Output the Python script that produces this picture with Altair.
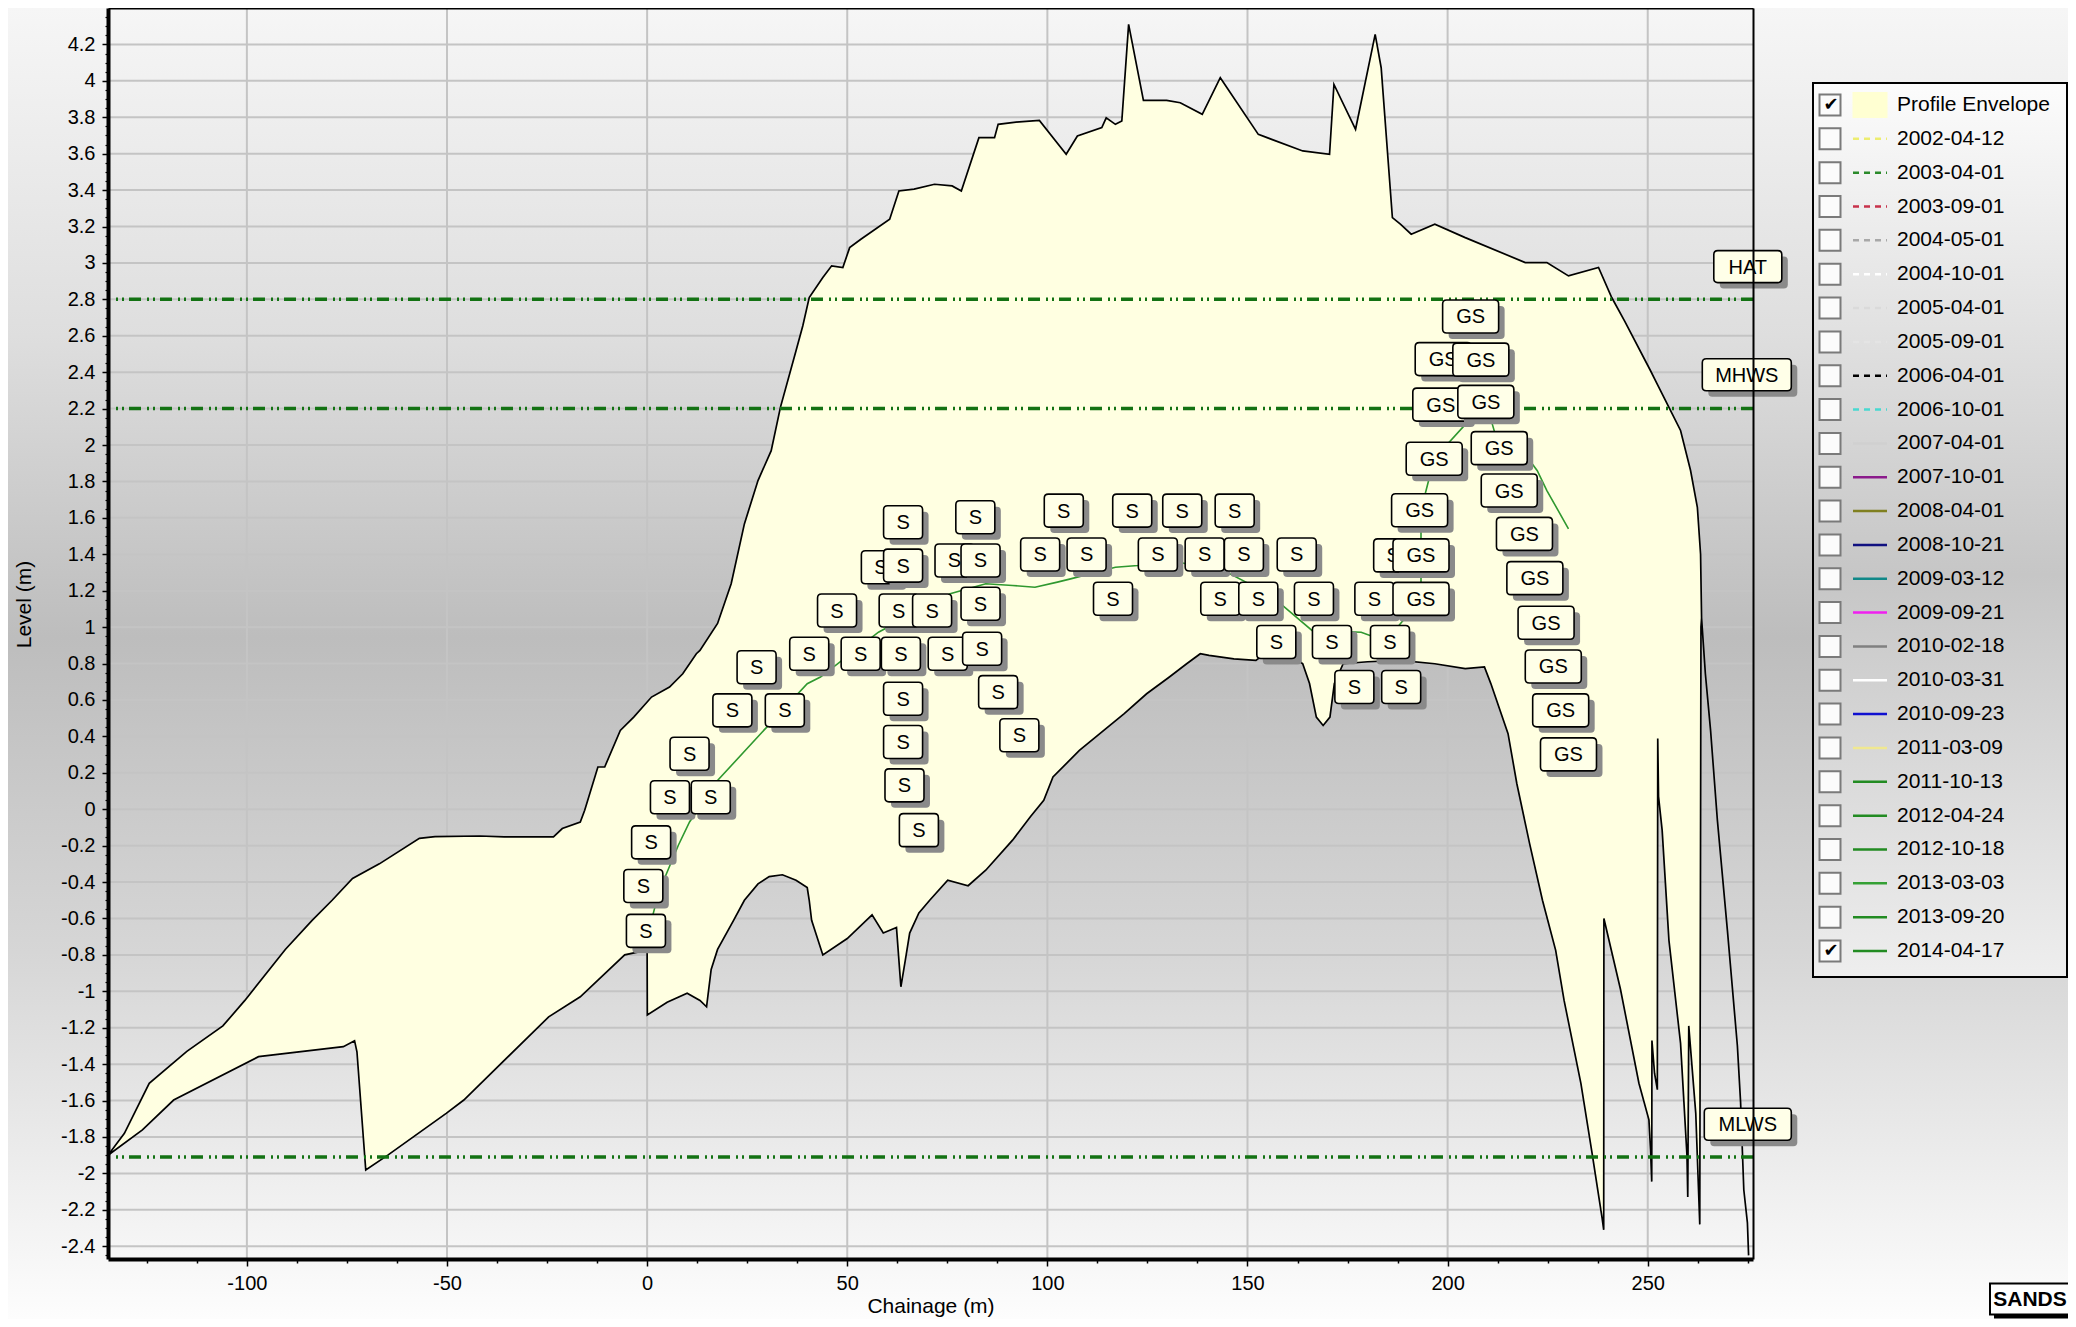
import altair as alt
import pandas as pd

# ---------------- data ----------------
upper_ch = [-134.7, -130.6, -124.4, -115.0, -106.0, -100.5, -90.4, -83.7, -78.7, -73.6, -66.9, -56.9, -53.0,
            -41.8, -35.7, -23.4, -21.2, -16.7, -15.6, -12.3, -10.6, -6.7, -3.35, 1.1, 5.6, 8.9, 12.3, 13.2,
            17.6, 21.0, 24.3, 27.7, 31.0, 33.3, 37.2, 38.9, 40.5, 43.9, 46.1, 48.9, 50.6, 53.4, 60.6, 62.9,
            66.7, 71.8, 76.2, 78.5, 82.9, 86.8, 87.7, 93.0, 98.0, 104.7, 107.5, 113.6, 114.7, 117.0, 118.6,
            120.3, 124.0, 129.8, 133.2, 138.7, 143.2, 152.7, 154.9, 163.8, 170.5, 171.6, 177.0, 181.9, 183.4,
            186.2, 188.2, 190.9, 196.8, 204.4, 219.4, 224.8, 230.2, 237.7, 241.0, 244.2, 250.7, 251.9, 255.3,
            258.2, 260.7, 262.4, 263.2, 263.45, 264.4, 265.7, 267.4, 269.9, 272.4, 273.2, 274.0, 274.9, 275.2]
upper_lv = [-1.90, -1.78, -1.505, -1.33, -1.19, -1.05, -0.77, -0.61, -0.50, -0.38, -0.30, -0.16, -0.15,
            -0.147, -0.152, -0.152, -0.106, -0.07, -0.006, 0.232, 0.232, 0.433, 0.506, 0.616, 0.671, 0.744, 0.854, 0.872,
            1.02, 1.238, 1.567, 1.805, 1.969, 2.207, 2.518, 2.655, 2.81, 2.92, 2.984, 2.975, 3.084, 3.13, 3.24, 3.395,
            3.405, 3.432, 3.423, 3.395, 3.688, 3.688, 3.761, 3.775, 3.783, 3.597, 3.697, 3.743, 3.797, 3.761, 3.779,
            4.31, 3.893, 3.893, 3.88, 3.816, 4.017, 3.706, 3.688, 3.615, 3.597, 3.98, 3.734, 4.255, 4.072,
            3.249, 3.213, 3.158, 3.213, 3.139, 3.002, 3.002, 2.929, 2.975, 2.81, 2.682, 2.408, 2.355, 2.207,
            2.08, 1.86, 1.658, 1.40, 1.05, 0.744, 0.433, -0.06, -0.664, -1.30, -1.61, -2.09, -2.27, -2.45]

lower_ch = [-134.7, -126.1, -118.3, -97.1, -75.9, -73.1, -72.5, -70.3, -64.7, -50.2, -45.8, -24.6, -16.7, -5.6,
            0.0, 0.05, 5.0, 10.0, 13.2, 14.85, 16.0, 17.6, 21.6, 24.3, 27.7, 30.5, 33.8, 37.2, 40.0, 40.5, 41.1,
            43.9, 50.0, 56.2, 59.0, 62.3, 63.4, 64.5, 65.6, 67.9, 70.6, 75.1, 80.2, 84.6, 91.3, 95.8, 99.1, 101.4,
            108.0, 119.2, 124.8, 130.4, 134.8, 138.2, 140.4, 146.6, 152.1, 153.2, 161.6, 163.8, 165.5, 167.2,
            168.9, 170.6, 171.7, 173.9, 180.0, 188.2, 196.8, 204.4, 209.2, 210.8, 215.1, 217.3, 220.5, 223.7,
            227.0, 229.1, 233.3, 236.1, 238.6, 239.0, 239.05, 243.2, 247.8, 250.3, 250.7, 251.0, 251.05, 251.7,
            252.4, 252.5, 252.7, 253.6, 255.3, 258.2, 259.8, 260.0, 260.25, 262.0, 263.0, 263.3, 263.45, 264.4,
            265.7, 267.4, 269.9, 272.4, 273.2, 274.0, 274.9, 275.2]
lower_lv = [-1.90, -1.761, -1.597, -1.359, -1.304, -1.271, -1.332, -1.981, -1.898, -1.67, -1.597, -1.14, -1.03, -0.80,
            -0.774, -1.13, -1.06, -1.01, -1.05, -1.085, -0.88, -0.77, -0.61, -0.50, -0.41, -0.37, -0.36, -0.39, -0.43, -0.50, -0.61,
            -0.80, -0.71, -0.58, -0.68, -0.65, -0.975, -0.83, -0.68, -0.57, -0.50, -0.39, -0.42, -0.335, -0.17, -0.04, 0.049, 0.177,
            0.323, 0.525, 0.634, 0.725, 0.799, 0.854, 0.845, 0.826, 0.817, 0.836, 0.836, 0.799, 0.69, 0.506,
            0.46, 0.506, 0.69, 0.799, 0.81, 0.817, 0.799, 0.772, 0.781, 0.69, 0.415, 0.14, -0.19, -0.50,
            -0.775, -1.05, -1.505, -1.89, -2.245, -2.31, -0.60, -0.99, -1.505, -1.706, -1.87, -2.045, -1.27, -1.45,
            -1.54, 0.388, 0.07, -0.115, -0.72, -1.286, -1.90, -2.13, -1.19, -1.67, -2.28, 1.0, 1.05, 0.744,
            0.433, -0.06, -0.664, -1.30, -1.61, -2.09, -2.27, -2.45]

p2014_ch = [0.0, 3.0, 7.8, 10.6, 17.65, 29.9, 40.0, 43.3, 57.8, 75.7, 84.6, 91.3, 96.9, 102.5, 105.8, 117.0,
            122.6, 132.0, 145.0, 152.0, 158.3, 166.1, 178.4, 180.6, 185.6, 193.35, 193.35, 196.65, 209.55,
            212.9, 219.0, 222.4, 224.8, 230.2]
p2014_lv = [-0.70, -0.45, -0.198, -0.07, 0.159, 0.451, 0.689, 0.726, 0.972, 1.183, 1.238, 1.229, 1.219, 1.247,
            1.265, 1.329, 1.338, 1.36, 1.30, 1.22, 1.128, 0.982, 0.972, 0.954, 0.95, 1.155, 1.642, 1.925, 2.237,
            1.983, 1.96, 1.859, 1.75, 1.54]

s_ch = [-0.3, -0.95, 1.0, 5.7, 15.9, 10.6, 21.3, 34.4, 27.35, 40.5, 53.35, 63.4, 75.1, 83.7, 47.45, 62.85,
        71.2, 83.3, 63.95, 83.3, 63.95, 82.0, 63.95, 87.7, 63.95, 93.0, 64.3, 67.9, 104.1, 121.2, 133.7, 146.8,
        98.2, 109.8, 127.6, 139.3, 149.1, 162.3, 116.4, 143.2, 152.7, 166.6, 181.7, 157.2, 171.1, 185.6, 176.7,
        188.4]
s_lv = [-0.668, -0.422, -0.182, 0.066, 0.066, 0.305, 0.543, 0.543, 0.78, 0.854, 0.854, 0.854, 0.854, 0.881,
        1.091, 1.091, 1.091, 1.128, 1.338, 1.366, 1.576, 1.603, 0.607, 0.643, 0.369, 0.406, 0.131, -0.115, 1.64,
        1.64, 1.64, 1.64, 1.399, 1.399, 1.399, 1.399, 1.399, 1.399, 1.156, 1.156, 1.156, 1.156, 1.156, 0.918,
        0.918, 0.918, 0.671, 0.671]
s_back_ch = [58.4, 76.8, 186.4]
s_back_lv = [1.329, 1.366, 1.394]
gs_ch = [193.35, 193.35, 193.0, 196.65, 209.55, 208.3, 205.75, 212.9, 215.4, 219.2, 221.8, 224.6, 226.4,
         228.25, 230.2]
gs_lv = [1.155, 1.394, 1.642, 1.925, 2.237, 2.469, 2.706, 1.983, 1.75, 1.512, 1.269, 1.024, 0.784, 0.543, 0.301]
gs_back_ch = [198.3, 198.9]
gs_back_lv = [2.222, 2.472]

tide_names = ["HAT", "MHWS", "MLWS"]
tide_levels = [2.8, 2.2, -1.91]
tide_label_ch = [275.0, 274.75, 275.0]
tide_label_lv = [2.98, 2.386, -1.73]

legend_entries = ["Profile Envelope", "2002-04-12", "2003-04-01", "2003-09-01", "2004-05-01", "2004-10-01",
                  "2005-04-01", "2005-09-01", "2006-04-01", "2006-10-01", "2007-04-01", "2007-10-01",
                  "2008-04-01", "2008-10-21", "2009-03-12", "2009-09-21", "2010-02-18", "2010-03-31",
                  "2010-09-23", "2011-03-09", "2011-10-13", "2012-04-24", "2012-10-18", "2013-03-03",
                  "2013-09-20", "2014-04-17"]
legend_colors = ["#ffffd2", "#eded70", "#2a8a2a", "#c8324b", "#a8a8a8", "#ffffff", "#dadada", "#e4e4e4",
                 "#000000", "#48d8d0", "#d0d0d0", "#8b1a8b", "#808020", "#101080", "#108888", "#f020f0",
                 "#808080", "#ffffff", "#1010d0", "#f0e890", "#228b22", "#228b22", "#228b22", "#34a034",
                 "#228b22", "#228b22"]
legend_styles = ["fill"] + ["dash"] * 9 + ["solid"] * 16
legend_checked = [1] + [0] * 24 + [1]

x_ticks = [-100, -50, 0, 50, 100, 150, 200, 250]
y_ticks = [-2.4, -2.2, -2, -1.8, -1.6, -1.4, -1.2, -1, -0.8, -0.6, -0.4, -0.2, 0, 0.2, 0.4, 0.6, 0.8, 1,
           1.2, 1.4, 1.6, 1.8, 2, 2.2, 2.4, 2.6, 2.8, 3, 3.2, 3.4, 3.6, 3.8, 4, 4.2]
minor_x = [-125, -112.5, -87.5, -75, -62.5, -37.5, -25, -12.5, 12.5, 25, 37.5, 62.5, 75, 87.5, 112.5, 125,
           137.5, 162.5, 175, 187.5, 212.5, 225, 237.5, 262.5, 275]
minor_y = [round(-2.45 + 0.05 * i, 2) for i in range(137) if i % 4 != 1]

# ---------------- layout ----------------
W, H = 1645, 1251
PAD = {"left": 100, "top": 0, "right": 315, "bottom": 60}
X_DOM = [-134.7, 276.3]
Y_DOM = [-2.47, 4.40]
FONT = "Liberation Sans"

xs = alt.Scale(domain=X_DOM, nice=False, zero=False)
ys = alt.Scale(domain=Y_DOM, nice=False, zero=False)


def rr_path(w, h, r, base=50.0):
    x = w / 2 / base
    y = h / 2 / base
    q = r / base
    f = lambda v: f"{v:.4f}"
    return (f"M{f(-x + q)},{f(-y)}L{f(x - q)},{f(-y)}Q{f(x)},{f(-y)} {f(x)},{f(-y + q)}"
            f"L{f(x)},{f(y - q)}Q{f(x)},{f(y)} {f(x - q)},{f(y)}L{f(-x + q)},{f(y)}"
            f"Q{f(-x)},{f(y)} {f(-x)},{f(y - q)}L{f(-x)},{f(-y + q)}Q{f(-x)},{f(-y)} {f(-x + q)},{f(-y)}Z")


kinds = ["S", "GS", "HAT", "MHWS", "MLWS"]
kind_paths = [rr_path(39, 33, 4), rr_path(56, 33, 4), rr_path(68, 32, 4), rr_path(89, 32, 4), rr_path(87, 32, 4)]
shape_enc = alt.Shape("kind:N", scale=alt.Scale(domain=kinds, range=kind_paths), legend=None)

grad_bg = alt.LinearGradient(gradient="linear", x1=0, x2=0, y1=0, y2=1, stops=[
    alt.GradientStop(color="#f6f6f6", offset=0.0),
    alt.GradientStop(color="#dedede", offset=0.25),
    alt.GradientStop(color="#bdbdbd", offset=0.48),
    alt.GradientStop(color="#d6d6d6", offset=0.72),
    alt.GradientStop(color="#fdfdfd", offset=1.0)])
grad_leg = alt.LinearGradient(gradient="linear", x1=0, x2=0, y1=0, y2=1, stops=[
    alt.GradientStop(color="#fcfcfc", offset=0.0),
    alt.GradientStop(color="#c6c6c6", offset=0.55),
    alt.GradientStop(color="#eeeeee", offset=1.0)])

one = pd.DataFrame({"k": [0]})

# ---------------- tables ----------------
poly = pd.DataFrame({"ch": upper_ch + lower_ch[::-1], "lv": upper_lv + lower_lv[::-1]})
poly["idx"] = range(len(poly))
p14 = pd.DataFrame({"ch": p2014_ch, "lv": p2014_lv})
p14["idx"] = range(len(p14))
tides = pd.DataFrame({"name": tide_names, "lv": tide_levels})

back_rows = ([dict(ch=c, lv=l, txt="S", kind="S") for c, l in zip(s_back_ch, s_back_lv)] +
             [dict(ch=c, lv=l, txt="GS", kind="GS") for c, l in zip(gs_back_ch, gs_back_lv)])
front_rows = ([dict(ch=c, lv=l, txt="S", kind="S") for c, l in zip(s_ch, s_lv)] +
              [dict(ch=c, lv=l, txt="GS", kind="GS") for c, l in zip(gs_ch, gs_lv)] +
              [dict(ch=c, lv=l, txt=n, kind=n) for c, l, n in zip(tide_label_ch, tide_label_lv, tide_names)])
back = pd.DataFrame(back_rows)
front = pd.DataFrame(front_rows)

leg = pd.DataFrame({"idx": list(range(len(legend_entries))), "entry": legend_entries,
                    "style": legend_styles, "checked": legend_checked})

# ---------------- axes ----------------
ax_main_x = alt.Axis(orient="bottom", values=x_ticks, title="Chainage (m)", grid=False, domainColor="black",
                     domainWidth=4, tickColor="black", tickSize=7, tickWidth=1.5, labelFont=FONT,
                     labelFontSize=20, labelColor="black", labelPadding=7, labelExpr="'' + datum.value",
                     labelFlush=False, labelOverlap=False, titleFont=FONT, titleFontSize=21,
                     titleFontWeight="normal", titleColor="black", titleY=47, titleBaseline="middle", zindex=1)
ax_main_y = alt.Axis(orient="left", values=y_ticks, title="Level (m)", grid=False, domainColor="black",
                     domainWidth=4, tickColor="black", tickSize=6, tickWidth=1.5, labelFont=FONT,
                     labelFontSize=20, labelColor="black", labelPadding=7, labelExpr="'' + datum.value",
                     labelOverlap=False, titleFont=FONT, titleFontSize=21, titleFontWeight="normal",
                     titleColor="black", titleAngle=270, titleX=-83.5, titleY=596, titleAlign="center",
                     titleBaseline="middle", zindex=1)
ax_minor_x = alt.Axis(orient="bottom", values=minor_x, labels=False, grid=False, domain=False, tickSize=4,
                      tickColor="black", tickWidth=1.5, title="", zindex=1)
ax_minor_y = alt.Axis(orient="left", values=minor_y, labels=False, grid=False, domain=False, tickSize=3,
                      tickColor="black", tickWidth=1.2, title="", zindex=1)
ax_top = alt.Axis(orient="top", labels=False, ticks=False, grid=False, domainColor="black", domainWidth=2,
                  title="", zindex=1)
ax_right = alt.Axis(orient="right", labels=False, ticks=False, grid=False, domainColor="black", domainWidth=2,
                    title="", zindex=1)

# ---------------- main plot layers ----------------
bg = alt.Chart(one).mark_rect(fill=grad_bg).encode(
    x=alt.value(-PAD["left"]), x2=alt.value(W + PAD["right"]), y=alt.value(0), y2=alt.value(H + PAD["bottom"]))

grid_x = alt.Chart(pd.DataFrame({"v": x_ticks})).mark_rule(color="#c4c4c4", strokeWidth=2).encode(
    x=alt.X("v:Q", scale=xs, axis=ax_minor_x))
grid_y = alt.Chart(pd.DataFrame({"v": y_ticks})).mark_rule(color="#c4c4c4", strokeWidth=2).encode(
    y=alt.Y("v:Q", scale=ys, axis=ax_minor_y))

env = alt.Chart(poly).mark_line(fill="#ffffe1", stroke="black", strokeWidth=1.7).encode(
    x=alt.X("ch:Q", scale=xs, axis=ax_main_x),
    y=alt.Y("lv:Q", scale=ys, axis=ax_main_y),
    order=alt.Order("idx:Q"))

line14 = alt.Chart(p14).mark_line(color="#2f982f", strokeWidth=1.6).encode(
    x=alt.X("ch:Q", scale=xs, axis=ax_top),
    y=alt.Y("lv:Q", scale=ys, axis=ax_right),
    order=alt.Order("idx:Q"))

tide_rules = alt.Chart(tides).mark_rule(color="#137213", strokeWidth=3.5, strokeDash=[12, 5, 2, 4, 2, 6]).encode(
    y=alt.Y("lv:Q", scale=ys, axis=None))


def label_layers(df):
    enc = dict(x=alt.X("ch:Q", scale=xs, axis=None), y=alt.Y("lv:Q", scale=ys, axis=None))
    sh = alt.Chart(df).mark_point(size=10000, filled=True, fill="#8a8a8a", opacity=1, xOffset=6, yOffset=6).encode(
        shape=shape_enc, **enc)
    bx = alt.Chart(df).mark_point(size=10000, filled=True, fill="#ffffe8", stroke="black", strokeWidth=1.6,
                                  opacity=1).encode(shape=shape_enc, **enc)
    tx = alt.Chart(df).mark_text(font=FONT, fontSize=20, color="black", align="center", baseline="middle",
                                 dy=1).encode(text="txt:N", **enc)
    return [sh, bx, tx]


main = alt.layer(bg, grid_x, grid_y, env, line14, tide_rules, *label_layers(back), *label_layers(front)
                 ).resolve_axis(x="independent", y="independent")

# ---------------- legend ----------------
ly = alt.Y("idx:Q", scale=alt.Scale(domain=[0, len(legend_entries) - 1], range=[97, 943]), axis=None)

leg_box = alt.Chart(one).mark_rect(fill=grad_leg, stroke="black", strokeWidth=2).encode(
    x=alt.value(1705), x2=alt.value(1959), y=alt.value(75), y2=alt.value(969))
leg_chk = alt.Chart(leg).mark_point(shape=rr_path(21, 21, 0), size=10000, filled=True, fill="#fbfbfb",
                                    stroke="#7a7a7a", strokeWidth=2, opacity=1).encode(x=alt.value(1722), y=ly)
leg_tick = alt.Chart(leg).transform_filter("datum.checked == 1").mark_text(
    text="\u2714", font="DejaVu Sans", fontSize=18, color="black", align="center", baseline="middle").encode(
    x=alt.value(1723), y=ly)
leg_env = alt.Chart(leg).transform_filter("datum.style == 'fill'").mark_point(
    shape=rr_path(35, 26, 0), size=10000, filled=True, fill="#ffffd2", opacity=1).encode(x=alt.value(1762), y=ly)
leg_sw = alt.Chart(leg).transform_filter("datum.style != 'fill'").mark_rule(strokeWidth=2.5).encode(
    x=alt.value(1745), x2=alt.value(1779), y=ly,
    color=alt.Color("entry:N", scale=alt.Scale(domain=legend_entries[1:], range=legend_colors[1:]), legend=None),
    strokeDash=alt.StrokeDash("style:N", scale=alt.Scale(domain=["dash", "solid"], range=[[6, 5], [1, 0]]),
                              legend=None))
leg_txt = alt.Chart(leg).mark_text(align="left", baseline="middle", font=FONT, fontSize=21, color="black").encode(
    x=alt.value(1789), y=ly, text="entry:N")

logo_path = rr_path(80, 31, 0)
LOGO_X, LOGO_Y = 1922, 1291
logo_sh = alt.Chart(one).mark_point(shape=logo_path, size=10000, filled=True, fill="black", opacity=1,
                                    xOffset=4, yOffset=4).encode(x=alt.value(LOGO_X), y=alt.value(LOGO_Y))
logo_bx = alt.Chart(one).mark_point(shape=logo_path, size=10000, filled=True, fill="white", stroke="black",
                                    strokeWidth=2, opacity=1).encode(x=alt.value(LOGO_X), y=alt.value(LOGO_Y))
logo_tx = alt.Chart(one).mark_text(text="SANDS", font=FONT, fontSize=21, fontWeight="bold", color="black",
                                   align="center", baseline="middle", dy=1).encode(x=alt.value(LOGO_X),
                                                                                    y=alt.value(LOGO_Y))

legend = alt.layer(leg_box, leg_chk, leg_tick, leg_env, leg_sw, leg_txt, logo_sh, logo_bx, logo_tx)

chart = alt.layer(main, legend).resolve_scale(x="independent", y="independent").properties(
    width=W, height=H, autosize=alt.AutoSizeParams(type="none"), padding=PAD, background="#ffffff"
).configure_view(strokeWidth=0)

chart.save("out.html", embed_options={"renderer": "svg", "actions": False})
